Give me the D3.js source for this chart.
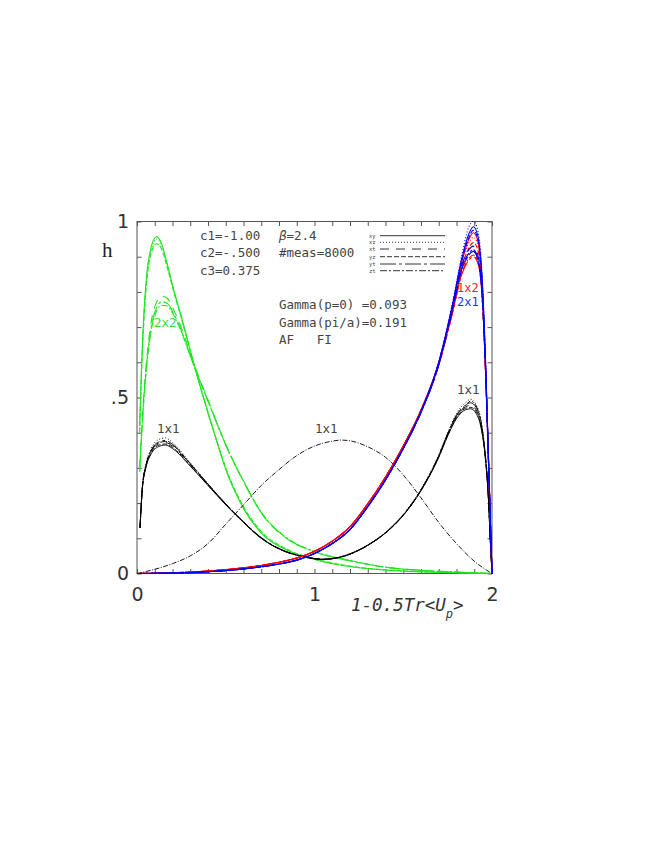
<!DOCTYPE html>
<html>
<head>
<meta charset="utf-8">
<script src="https://cdn.jsdelivr.net/npm/d3@7/dist/d3.min.js"></script>
<style>
  body { margin: 0; background: #fff; }
  svg { display: block; }
  .ann { font-family: "DejaVu Sans Mono", monospace; font-size: 12.5px; fill: #444; white-space: pre; }
  .tick text { font-family: "DejaVu Sans", sans-serif; font-size: 19px; fill: #333; }
</style>
</head>
<body>
<svg width="664" height="860"></svg>
<script>
// orientations of the plaquettes and their line styles
var planes = ["xy", "xz", "xt", "yz", "yt", "zt"];
var planeDash = ["", "1,2", "9,7", "5,2", "16,3,3,3", "7,2,2,2"];

// 2x2 loops (green)
var gX = [0.015, 0.025, 0.04, 0.055, 0.08, 0.11, 0.14, 0.17, 0.21, 0.25, 0.3, 0.35, 0.4, 0.45, 0.5, 0.6, 0.7, 0.85, 1.0, 1.2, 1.4, 1.6, 1.8, 2.0];
var g2x2_xy = [0.42, 0.58, 0.75, 0.85, 0.928, 0.957, 0.935, 0.88, 0.80, 0.73, 0.634, 0.542, 0.456, 0.374, 0.296, 0.185, 0.115, 0.065, 0.04, 0.02, 0.01, 0.005, 0.002, 0];
var g2x2_xz = [0.41, 0.57, 0.74, 0.845, 0.92, 0.950, 0.930, 0.877, 0.80, 0.728, 0.633, 0.542, 0.456, 0.375, 0.298, 0.187, 0.117, 0.066, 0.041, 0.02, 0.01, 0.005, 0.002, 0];
var g2x2_xt = [0.30, 0.40, 0.52, 0.61, 0.715, 0.77, 0.787, 0.782, 0.745, 0.698, 0.625, 0.556, 0.493, 0.428, 0.366, 0.262, 0.172, 0.097, 0.062, 0.036, 0.018, 0.009, 0.004, 0];
var g2x2_yz = [0.40, 0.56, 0.73, 0.83, 0.91, 0.937, 0.92, 0.87, 0.795, 0.725, 0.632, 0.543, 0.458, 0.377, 0.30, 0.19, 0.12, 0.068, 0.042, 0.021, 0.01, 0.005, 0.002, 0];
var g2x2_yt = [0.29, 0.39, 0.51, 0.60, 0.70, 0.755, 0.772, 0.768, 0.735, 0.69, 0.62, 0.553, 0.49, 0.426, 0.365, 0.262, 0.173, 0.098, 0.062, 0.036, 0.018, 0.009, 0.004, 0];
var g2x2_zt = [0.29, 0.38, 0.50, 0.59, 0.69, 0.745, 0.762, 0.76, 0.73, 0.686, 0.618, 0.552, 0.49, 0.427, 0.366, 0.263, 0.174, 0.099, 0.063, 0.037, 0.018, 0.009, 0.004, 0];

// 1x2 (red) and 2x1 (blue) loops
var rbX = [0, 0.2, 0.4, 0.6, 0.8, 0.9, 1.0, 1.1, 1.2, 1.3, 1.4, 1.5, 1.6, 1.7, 1.78, 1.83, 1.87, 1.895, 1.92, 1.945, 1.965, 1.98, 1.99, 2.0];
var r1x2_xy = [0, 0.002, 0.007, 0.016, 0.032, 0.044, 0.063, 0.092, 0.133, 0.198, 0.274, 0.362, 0.465, 0.60, 0.765, 0.885, 0.95, 0.968, 0.945, 0.82, 0.57, 0.33, 0.165, 0];
var r1x2_xz = [0, 0.002, 0.007, 0.016, 0.032, 0.044, 0.063, 0.092, 0.133, 0.198, 0.274, 0.362, 0.465, 0.60, 0.762, 0.878, 0.94, 0.955, 0.935, 0.815, 0.57, 0.33, 0.165, 0];
var r1x2_xt = [0, 0.002, 0.007, 0.016, 0.032, 0.044, 0.063, 0.092, 0.133, 0.198, 0.274, 0.362, 0.463, 0.595, 0.75, 0.86, 0.905, 0.915, 0.895, 0.79, 0.56, 0.325, 0.16, 0];
var r1x2_yz = [0, 0.002, 0.007, 0.016, 0.032, 0.044, 0.063, 0.092, 0.133, 0.198, 0.274, 0.362, 0.465, 0.598, 0.758, 0.87, 0.925, 0.94, 0.92, 0.805, 0.565, 0.33, 0.165, 0];
var r1x2_yt = [0, 0.002, 0.007, 0.016, 0.032, 0.044, 0.063, 0.092, 0.133, 0.198, 0.274, 0.362, 0.462, 0.592, 0.745, 0.85, 0.89, 0.90, 0.882, 0.78, 0.555, 0.32, 0.16, 0];
var r1x2_zt = [0, 0.002, 0.007, 0.016, 0.032, 0.044, 0.063, 0.092, 0.133, 0.198, 0.274, 0.362, 0.462, 0.593, 0.747, 0.853, 0.895, 0.905, 0.886, 0.783, 0.557, 0.322, 0.16, 0];
var b2x1_xy = [0, 0.001, 0.005, 0.013, 0.027, 0.038, 0.057, 0.085, 0.125, 0.19, 0.266, 0.355, 0.46, 0.60, 0.77, 0.895, 0.965, 0.985, 0.96, 0.83, 0.58, 0.33, 0.165, 0];
var b2x1_xz = [0, 0.001, 0.005, 0.013, 0.027, 0.038, 0.057, 0.085, 0.125, 0.19, 0.266, 0.355, 0.46, 0.602, 0.775, 0.905, 0.985, 1.0, 0.975, 0.84, 0.59, 0.335, 0.165, 0];
var b2x1_xt = [0, 0.001, 0.005, 0.013, 0.027, 0.038, 0.057, 0.085, 0.125, 0.19, 0.266, 0.355, 0.458, 0.595, 0.76, 0.875, 0.92, 0.93, 0.905, 0.79, 0.56, 0.32, 0.16, 0];
var b2x1_yz = [0, 0.001, 0.005, 0.013, 0.027, 0.038, 0.057, 0.085, 0.125, 0.19, 0.266, 0.355, 0.46, 0.60, 0.768, 0.89, 0.955, 0.975, 0.95, 0.825, 0.578, 0.33, 0.165, 0];
var b2x1_yt = [0, 0.001, 0.005, 0.013, 0.027, 0.038, 0.057, 0.085, 0.125, 0.19, 0.266, 0.355, 0.457, 0.592, 0.755, 0.865, 0.905, 0.915, 0.892, 0.782, 0.555, 0.318, 0.16, 0];
var b2x1_zt = [0, 0.001, 0.005, 0.013, 0.027, 0.038, 0.057, 0.085, 0.125, 0.19, 0.266, 0.355, 0.457, 0.593, 0.757, 0.868, 0.91, 0.92, 0.897, 0.785, 0.557, 0.32, 0.16, 0];

// 1x1 loops (black)
var kX = [0.017, 0.03, 0.05, 0.08, 0.12, 0.16, 0.2, 0.3, 0.4, 0.5, 0.6, 0.7, 0.8, 0.9, 1.0, 1.05, 1.1, 1.2, 1.3, 1.4, 1.5, 1.6, 1.7, 1.75, 1.8, 1.85, 1.88, 1.91, 1.94, 1.96, 1.98, 1.99, 2.0];
var k1x1_xy = [0.13, 0.24, 0.30, 0.34, 0.36, 0.365, 0.355, 0.305, 0.25, 0.195, 0.145, 0.10, 0.07, 0.052, 0.042, 0.04, 0.042, 0.055, 0.08, 0.115, 0.165, 0.235, 0.33, 0.39, 0.44, 0.465, 0.468, 0.455, 0.41, 0.34, 0.21, 0.1, 0];
var k1x1_xz = [0.13, 0.245, 0.31, 0.355, 0.38, 0.385, 0.372, 0.315, 0.255, 0.198, 0.147, 0.102, 0.071, 0.053, 0.043, 0.041, 0.043, 0.056, 0.081, 0.117, 0.168, 0.24, 0.337, 0.40, 0.455, 0.485, 0.495, 0.48, 0.43, 0.35, 0.215, 0.1, 0];
var k1x1_xt = [0.13, 0.242, 0.305, 0.346, 0.368, 0.372, 0.362, 0.31, 0.253, 0.197, 0.146, 0.101, 0.07, 0.052, 0.042, 0.04, 0.042, 0.055, 0.08, 0.116, 0.166, 0.237, 0.333, 0.394, 0.446, 0.473, 0.478, 0.465, 0.418, 0.344, 0.212, 0.1, 0];
var k1x1_yz = [0.13, 0.24, 0.302, 0.343, 0.364, 0.368, 0.358, 0.307, 0.251, 0.196, 0.145, 0.10, 0.07, 0.052, 0.042, 0.04, 0.042, 0.055, 0.08, 0.115, 0.165, 0.236, 0.331, 0.392, 0.443, 0.469, 0.472, 0.46, 0.414, 0.342, 0.211, 0.1, 0];
var k1x1_yt = [0.13, 0.243, 0.307, 0.35, 0.373, 0.378, 0.367, 0.312, 0.254, 0.198, 0.147, 0.102, 0.071, 0.053, 0.043, 0.041, 0.043, 0.056, 0.081, 0.116, 0.167, 0.238, 0.335, 0.397, 0.45, 0.478, 0.485, 0.472, 0.424, 0.347, 0.213, 0.1, 0];
var k1x1_zt = [0.13, 0.243, 0.306, 0.348, 0.371, 0.375, 0.365, 0.311, 0.254, 0.197, 0.146, 0.101, 0.07, 0.052, 0.042, 0.04, 0.042, 0.055, 0.08, 0.116, 0.166, 0.237, 0.334, 0.396, 0.448, 0.476, 0.49, 0.476, 0.426, 0.348, 0.214, 0.1, 0];

// broad 1x1 reference curve (dash-dot)
var hX = [0, 0.1, 0.2, 0.3, 0.4, 0.5, 0.6, 0.7, 0.8, 0.9, 1.0, 1.1, 1.15, 1.2, 1.3, 1.4, 1.5, 1.6, 1.7, 1.8, 1.9, 2.0];
var hY = [0, 0.012, 0.028, 0.05, 0.085, 0.14, 0.195, 0.25, 0.295, 0.335, 0.362, 0.376, 0.379, 0.377, 0.36, 0.33, 0.28, 0.215, 0.145, 0.085, 0.035, 0];

// axis ticks
var xMinor = d3.range(0, 21).map(function(i) { return i / 10; });
var yMinor = d3.range(0, 11).map(function(i) { return i / 10; });
var xLabels = [0, 1, 2];
var yLabels = [0, 0.5, 1];

var svg = d3.select("svg");

var x = d3.scaleLinear().domain([0, 2]).range([137, 492]),
    y = d3.scaleLinear().domain([0, 1]).range([573.5, 221.5]);

var plot = svg.append("g");

// minor ticks, inward on all four sides
function inward(axis) { return axis.tickSize(-4.5).tickFormat("").tickSizeOuter(0); }
plot.append("g").attr("transform", "translate(0," + y(0) + ")").call(inward(d3.axisBottom(x).tickValues(xMinor)));
plot.append("g").attr("transform", "translate(0," + y(1) + ")").call(inward(d3.axisTop(x).tickValues(xMinor)));
plot.append("g").attr("transform", "translate(" + x(0) + ",0)").call(inward(d3.axisLeft(y).tickValues(yMinor)));
plot.append("g").attr("transform", "translate(" + x(2) + ",0)").call(inward(d3.axisRight(y).tickValues(yMinor)));
plot.selectAll(".domain").remove();
plot.selectAll(".tick line").attr("stroke", "#555");

// labels
var xl = plot.append("g").attr("transform", "translate(0," + y(0) + ")")
  .call(d3.axisBottom(x).tickValues(xLabels).tickSize(0).tickPadding(14.5).tickFormat(d3.format("d")));
var yl = plot.append("g").attr("transform", "translate(" + x(0) + ",0)")
  .call(d3.axisLeft(y).tickValues(yLabels).tickSize(0).tickPadding(8)
    .tickFormat(function(d) { return d == 0.5 ? ".5" : d3.format("d")(d); }));
xl.select(".domain").remove();
yl.select(".domain").remove();

// frame
plot.append("rect")
  .attr("x", x(0)).attr("y", y(1))
  .attr("width", x(2) - x(0)).attr("height", y(0) - y(1))
  .attr("fill", "none").attr("stroke", "#555").attr("stroke-width", 1);

var line = d3.line()
  .x(function(d) { return x(d[0]); })
  .y(function(d) { return y(d[1]); })
  .curve(d3.curveMonotoneX);

function drawFamily(xs, series, color, width) {
  series.forEach(function(ys, i) {
    plot.append("path")
      .datum(xs.map(function(v, j) { return [v, ys[j]]; }))
      .attr("fill", "none")
      .attr("stroke", color)
      .attr("stroke-width", width)
      .attr("stroke-dasharray", planeDash[i] || null)
      .attr("d", line);
  });
}

drawFamily(gX, [g2x2_xy, g2x2_xz, g2x2_xt, g2x2_yz, g2x2_yt, g2x2_zt], "#1ee61e", 1.1);
drawFamily(kX, [k1x1_xy, k1x1_xz, k1x1_xt, k1x1_yz, k1x1_yt, k1x1_zt], "#000", 0.9);

plot.append("path")
  .datum(hX.map(function(v, j) { return [v, hY[j]]; }))
  .attr("fill", "none").attr("stroke", "#000").attr("stroke-width", 0.9)
  .attr("stroke-dasharray", "5,1.5,1,1.5")
  .attr("d", line);

drawFamily(rbX, [r1x2_xy, r1x2_xz, r1x2_xt, r1x2_yz, r1x2_yt, r1x2_zt], "#ff0000", 1.1);
drawFamily(rbX, [b2x1_xy, b2x1_xz, b2x1_xt, b2x1_yz, b2x1_yt, b2x1_zt], "#0000ff", 1.1);

// curve labels
function label(txt, px, py, color, size) {
  svg.append("text").attr("class", "ann").attr("x", px).attr("y", py)
    .style("fill", color).style("font-size", size ? size + "px" : null).text(txt);
}
label("2x2", 154, 327, "#33dd33");
label("1x1", 157, 433, "#444");
label("1x1", 315, 433, "#444");
label("1x1", 457, 394, "#444");
label("1x2", 457, 291.5, "#ff2020", 12);
label("2x1", 457, 305.5, "#2030ff", 12);

// parameters
label("c1=-1.00", 200, 240, "#444");
label("c2=-.500", 200, 257, "#444");
label("c3=0.375", 200, 274.5, "#444");
var beta = svg.append("text").attr("class", "ann").attr("x", 279).attr("y", 240);
beta.append("tspan").style("font-style", "italic").text("β");
beta.append("tspan").text("=2.4");
label("#meas=8000", 279, 257, "#444");
label("Gamma(p=0) =0.093", 279, 309, "#444");
label("Gamma(pi/a)=0.191", 279, 326.5, "#444");
label("AF   FI", 279, 344, "#444");

// y title
svg.append("text").attr("x", 102).attr("y", 257)
  .style("font-family", "'Liberation Serif', serif").style("font-size", "21px").style("fill", "#222")
  .text("h");

// x title
var xt = svg.append("text").attr("x", 351).attr("y", 610.5)
  .style("font-family", "'DejaVu Sans Mono', monospace").style("font-style", "italic")
  .style("font-size", "17.5px").style("fill", "#333");
xt.append("tspan").text("1-0.5Tr<U");
xt.append("tspan").attr("dy", 7).style("font-size", "12px").text("p");
xt.append("tspan").attr("dy", -7).text(">");

// legend of line styles
var legY = [235.7, 242.3, 249, 256.7, 264, 270.7];
var leg = svg.append("g");
planes.forEach(function(p, i) {
  leg.append("line")
    .attr("x1", 380).attr("x2", 445).attr("y1", legY[i]).attr("y2", legY[i])
    .attr("stroke", "#333").attr("stroke-width", 1)
    .attr("stroke-dasharray", planeDash[i] || null);
  leg.append("text")
    .attr("x", 369).attr("y", legY[i] + 2)
    .style("font-family", "'DejaVu Sans Mono', monospace").style("font-size", "5.5px").style("fill", "#444")
    .text(p);
});
</script>
</body>
</html>
